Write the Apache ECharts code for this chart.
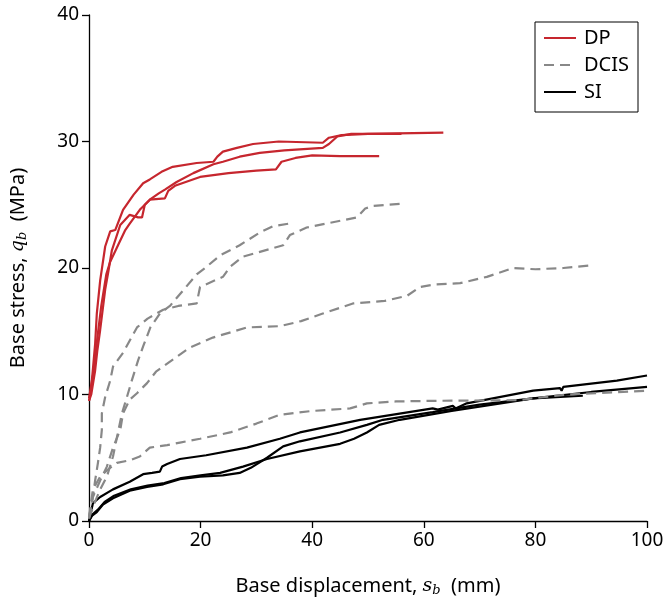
<!DOCTYPE html>
<html><head><meta charset="utf-8">
<script src="https://cdn.jsdelivr.net/npm/echarts@6/dist/echarts.min.js"></script>
<style>html,body{margin:0;padding:0;background:#fff}#c{width:664px;height:599px}</style>
</head><body><div id="c"></div>
<script>
const xTicks = [0, 20, 40, 60, 80, 100];
const yTicks = [0, 10, 20, 30, 40];
const groupNames = ['DP', 'DCIS', 'SI'];

const dp1 = [[0,9.5],[0.3,10.1],[0.7,12],[1.1,14],[1.4,16.4],[2,19],[2.9,21.7],[3.8,22.9],[4.7,23.0],[6.1,24.6],[8,25.8],[9.7,26.7],[10.9,27.0],[13,27.6],[15,28.0],[19.3,28.3],[22.3,28.4],[23,28.8],[24,29.2],[26.5,29.5],[29.4,29.8],[34,30.0],[41.9,29.9],[43,30.3],[45.3,30.5],[50,30.6],[63.5,30.7]];
const dp2 = [[0,9.7],[0.3,10.5],[0.9,12],[1.5,14.5],[2.2,17],[3.1,19.5],[3.8,20.5],[5.2,21.8],[6.5,23],[7.3,23.5],[9.1,24.6],[10.9,25.4],[12.5,25.9],[13.6,26.2],[15.7,26.8],[18.7,27.5],[22.3,28.2],[24,28.4],[27,28.8],[30.6,29.1],[35,29.3],[41.9,29.5],[43,29.8],[44.5,30.4],[47,30.6],[56,30.6]];
const dp3 = [[0,9.5],[0.4,10],[1.1,11.9],[1.5,13.5],[2,15.1],[2.9,18.3],[3.5,19.8],[4.1,21.4],[5.6,23.4],[7.3,24.2],[8.8,24.0],[9.5,24.0],[10,25],[10.9,25.4],[13.6,25.5],[14.2,26.1],[15.4,26.5],[19.9,27.2],[25,27.5],[30,27.7],[33.5,27.8],[34.5,28.4],[37,28.7],[40,28.9],[45,28.85],[52,28.85]];

const dcisA = [[0,0.3],[0.7,1.9],[1.1,3.2],[1.6,4.6],[2,5.8],[2.3,7.2],[2.3,8.5],[2.9,9.8],[3.8,11.1],[4.3,12.2],[6.1,13.3],[8.6,15.3],[10.5,16],[13.3,16.7],[16,17.0],[19.3,17.2],[19.9,18.5],[24,19.3],[25.3,20.1],[27.6,20.9],[34.8,21.8],[36,22.6],[39,23.2],[48,24.0],[49.5,24.7],[50.9,24.9],[56.3,25.1]];
const dcisB = [[0,0.2],[0.7,1.1],[2,2.5],[3.2,3.5],[4.3,5.1],[5,6.6],[5.9,8.5],[6.8,9.8],[7.6,11],[8.8,12.7],[9.7,13.8],[11,15.3],[12.7,16.4],[14.5,17],[17,18.3],[19.3,19.5],[20.8,20],[23.5,21],[27,21.8],[30.6,22.8],[33,23.3],[35.7,23.5]];
const dcisC = [[0,0.2],[0.7,1.9],[2,3.2],[3.2,4.3],[4.3,5.8],[5.6,7.2],[6.1,8.5],[7.3,9.6],[8.6,10.1],[10.4,10.9],[12,11.8],[15.8,13],[18,13.7],[22.2,14.5],[28.3,15.3],[34.2,15.4],[38,15.8],[41.9,16.4],[47.3,17.2],[53,17.4],[57,17.8],[59.3,18.5],[62,18.7],[66.5,18.8],[71.3,19.3],[76,20.0],[80,19.9],[85,20.0],[89.8,20.2]];
const dcisD = [[0,0.3],[0.7,2.5],[2,3.5],[3.2,4.0],[5,4.6],[7.3,4.8],[9.1,5.1],[10.9,5.8],[14,6.0],[16.3,6.2],[19.9,6.5],[25.3,7.0],[30,7.7],[34.2,8.4],[40,8.7],[46.8,8.9],[49.8,9.3],[55,9.45],[61.6,9.5],[76.7,9.55],[85.6,10.0],[100,10.3]];

const si1 = [[0,0],[0.3,0.6],[0.7,1.4],[2,1.9],[4.3,2.5],[7.3,3.1],[9.7,3.7],[11.3,3.8],[12.7,3.9],[13.1,4.3],[14,4.5],[16.3,4.9],[21,5.2],[28.3,5.8],[34.2,6.5],[37.8,7.0],[48.6,8.0],[61.6,8.9],[62.5,8.8],[65.2,9.1],[65.7,8.9],[67.7,9.3],[79.6,10.3],[84.4,10.5],[84.7,10.3],[85,10.6],[94.6,11.1],[100,11.5]];
const si2 = [[0,0],[0.5,0.4],[1.4,0.7],[2.5,1.3],[4.3,1.8],[7.3,2.4],[10.4,2.7],[13.3,2.9],[16.3,3.3],[19.9,3.5],[24,3.6],[27,3.8],[29,4.2],[31.9,5.0],[34.8,5.9],[37.8,6.3],[45,7.0],[49.8,7.6],[52.7,8.0],[61.6,8.6],[70,9.2],[79.6,9.7],[88.5,9.9]];
const si3 = [[0,0],[0.6,0.5],[1.6,0.9],[2.8,1.5],[4.5,2.0],[7.5,2.5],[10.5,2.8],[13.5,3.0],[16.5,3.4],[20,3.6],[23.5,3.8],[27.6,4.3],[31.9,4.9],[37.8,5.5],[45,6.1],[47.5,6.5],[49.8,7.0],[52,7.6],[55.7,8.0],[65,8.7],[79.6,9.7],[90,10.2],[100,10.6]];

const RED = '#c6262e', GREY = '#888888', BLACK = '#000000';
const FONT = 'Noto Sans';
const DASH = [10, 6];
function mk(name, data, color, type) {
  return { name, type: 'line', data, symbol: 'none', showSymbol: false, smooth: false, z: name === 'DP' ? 3 : 2,
    lineStyle: { color, width: 2.2, type: type || 'solid' },
    itemStyle: { color } };
}
const series = [
  mk('SI', si1, BLACK), mk('SI', si2, BLACK), mk('SI', si3, BLACK),
  mk('DCIS', dcisA, GREY, DASH), mk('DCIS', dcisB, GREY, DASH), mk('DCIS', dcisC, GREY, DASH), mk('DCIS', dcisD, GREY, DASH),
  mk('DP', dp1, RED), mk('DP', dp2, RED), mk('DP', dp3, RED)
];
const chart = echarts.init(document.getElementById('c'));
const rich = {
  n: { fontFamily: FONT, fontSize: 20, color: '#000' },
  i: { fontFamily: 'DejaVu Serif', fontStyle: 'italic', fontSize: 19, color: '#000' },
  s: { fontFamily: 'DejaVu Serif', fontStyle: 'italic', fontSize: 13, color: '#000', padding: [9, 0, 0, 0] }
};
chart.setOption({
  animation: false,
  backgroundColor: '#fff',
  grid: { left: 89, right: 17, top: 15, bottom: 78, containLabel: false, outerBoundsMode: 'none' },
  legend: {
    data: groupNames,
    orient: 'vertical', left: 535, top: 22,
    padding: [6, 9, 10, 8], itemGap: 7, itemWidth: 32, itemHeight: 14,
    borderColor: '#000', borderWidth: 1, backgroundColor: '#fff',
    itemStyle: { color: 'rgba(0,0,0,0)', borderWidth: 0, opacity: 0 },
    textStyle: { fontFamily: FONT, fontSize: 20, color: '#000', padding: [0, 0, 0, 3] }
  },
  xAxis: {
    type: 'value', min: xTicks[0], max: xTicks[xTicks.length - 1], interval: 20,
    name: '{n|Base displacement, }{i|s}{s|b}{n|  (mm)}', nameLocation: 'middle', nameGap: 54,
    nameTextStyle: { rich },
    axisLine: { lineStyle: { color: '#000', width: 1.3 } },
    axisTick: { inside: false, length: 7, lineStyle: { color: '#000', width: 1.3 } },
    axisLabel: { fontFamily: FONT, fontSize: 19, color: '#000', margin: 10 },
    splitLine: { show: false }
  },
  yAxis: {
    type: 'value', min: yTicks[0], max: yTicks[yTicks.length - 1], interval: 10,
    name: '{n|Base stress, }{i|q}{s|b}{n|  (MPa)}', nameLocation: 'middle', nameGap: 60,
    nameTextStyle: { rich },
    axisLine: { show: true, lineStyle: { color: '#000', width: 1.3 } },
    axisTick: { show: true, inside: false, length: 7, lineStyle: { color: '#000', width: 1.3 } },
    axisLabel: { fontFamily: FONT, fontSize: 19, color: '#000', margin: 10 },
    splitLine: { show: false }
  },
  series
});
</script></body></html>
